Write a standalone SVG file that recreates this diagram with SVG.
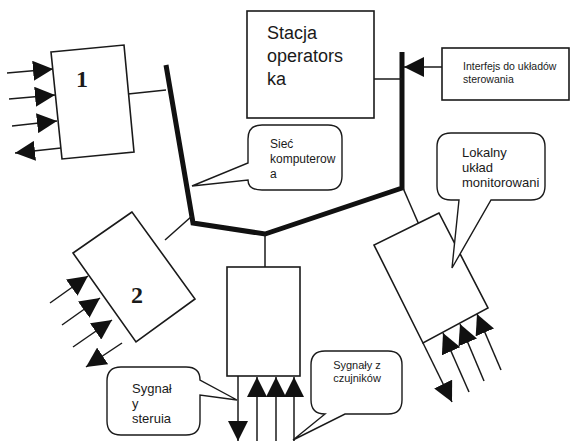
<svg xmlns="http://www.w3.org/2000/svg" width="574" height="441" viewBox="0 0 574 441">
  <style>
    .box { fill: #fff; stroke: #1a1a1a; stroke-width: 1.6; }
    .bubble { fill: #fff; stroke: #1a1a1a; stroke-width: 1.4; stroke-linejoin: miter; }
    .wire { fill: none; stroke: #1a1a1a; stroke-width: 1.5; }
    .sig { fill: none; stroke: #1a1a1a; stroke-width: 1.5; marker-end: url(#head); }
    .bus { fill: none; stroke: #111; stroke-width: 5; stroke-linejoin: miter; }
    .num { font-family: "Liberation Serif", "Times New Roman", serif; font-weight: bold; font-size: 24px; fill: #1a1a1a; text-anchor: middle; }
    .lbl { font-family: "Liberation Sans", Arial, sans-serif; fill: #1a1a1a; }
  </style>
  <defs>
    <marker id="head" viewBox="0 0 20 20" refX="20" refY="10" markerWidth="20" markerHeight="20" markerUnits="userSpaceOnUse" orient="auto">
      <path d="M0,0 L20,10 L0,20 Z" fill="#111"/>
    </marker>
  </defs>

  <!-- network bus and the links to it -->
  <g id="connectors">
    <path class="bus" d="M166,65 L193,223 L265,234 L402,188 L402,52"/>
    <path class="wire" d="M128,94 L166,90"/>
    <path class="wire" d="M374,79 L402,79"/>
    <path class="wire" d="M165,240 L192,216"/>
    <path class="wire" d="M265,267 L265,234"/>
    <path class="wire" d="M403,188 L420,227"/>
    <!-- interface input -->
    <path class="sig" d="M442,67 L404,67"/>
    <!-- station 1 signals -->
    <path class="sig" d="M7,73 L53,69"/>
    <path class="sig" d="M9,99 L55,95"/>
    <path class="sig" d="M12,126 L57,121"/>
    <path class="sig" d="M61,148 L15,153"/>
    <!-- station 2 signals -->
    <path class="sig" d="M50,303 L88,276"/>
    <path class="sig" d="M62,325 L100,298"/>
    <path class="sig" d="M73,347 L112,320"/>
    <path class="sig" d="M122,343 L86,367"/>
    <!-- middle unit signals -->
    <path class="sig" d="M238,376 L238,441"/>
    <path class="sig" d="M257,445 L257,377"/>
    <path class="sig" d="M276,445 L276,377"/>
    <path class="sig" d="M294,445 L294,377"/>
    <!-- monitoring unit signals -->
    <path class="sig" d="M423,343 L452,402"/>
    <path class="sig" d="M469,392 L443,333"/>
    <path class="sig" d="M484,381 L460,324"/>
    <path class="sig" d="M501,370 L477,314"/>
  </g>

  <g id="station1">
    <polygon class="box" points="51,52 124,45 134,152 62,159"/>
    <text class="num" x="82" y="87">1</text>
  </g>

  <g id="station2">
    <polygon class="box" points="132,212 73,253 136,342 195,299"/>
    <text class="num" x="137" y="303">2</text>
  </g>

  <g id="middle-unit">
    <rect class="box" x="227" y="267" width="73" height="109"/>
  </g>

  <g id="monitor-unit">
    <polygon class="box" points="439,213 374,245 423,343 488,308"/>
  </g>

  <g id="operator-station">
    <rect class="box" x="247" y="11" width="127" height="107"/>
    <text class="lbl" font-size="18" x="267" y="39">Stacja</text>
    <text class="lbl" font-size="18" x="267" y="62">operators</text>
    <text class="lbl" font-size="18" x="267" y="85">ka</text>
  </g>

  <g id="interface">
    <rect class="box" x="442" y="48" width="127" height="52"/>
    <text class="lbl" font-size="10.5" x="463" y="70">Interfejs do układów</text>
    <text class="lbl" font-size="10.5" x="463" y="83">sterowania</text>
  </g>

  <g id="network-note">
    <path class="bubble" d="M262,125 H328 Q342,125 342,139 V176 Q342,190 328,190 H262 Q248,190 248,180 L192,186 L248,163 V139 Q248,125 262,125 Z"/>
    <text class="lbl" font-size="12" x="270" y="148">Sieć</text>
    <text class="lbl" font-size="12" x="270" y="163">komputerow</text>
    <text class="lbl" font-size="12" x="270" y="178">a</text>
  </g>

  <g id="monitor-note">
    <path class="bubble" d="M451,133 H531 Q545,133 545,147 V186 Q545,200 531,200 H491 L452,268 L459,200 H451 Q437,200 437,186 V147 Q437,133 451,133 Z"/>
    <text class="lbl" font-size="13" x="462" y="157">Lokalny</text>
    <text class="lbl" font-size="13" x="462" y="172">układ</text>
    <text class="lbl" font-size="13" x="462" y="187">monitorowani</text>
  </g>

  <g id="control-note">
    <path class="bubble" d="M121,367 H186 Q200,367 200,380 L237,400 L200,395 V421 Q200,435 186,435 H121 Q107,435 107,421 V381 Q107,367 121,367 Z"/>
    <text class="lbl" font-size="13" x="132" y="393">Sygnał</text>
    <text class="lbl" font-size="13" x="132" y="408">y</text>
    <text class="lbl" font-size="13" x="132" y="423">steruia</text>
  </g>

  <g id="sensor-note">
    <path class="bubble" d="M325,351 H388 Q402,351 402,365 V400 Q402,414 388,414 H345 L293,440 L325,414 Q311,414 311,400 V365 Q311,351 325,351 Z"/>
    <text class="lbl" font-size="11" x="357" y="369" text-anchor="middle">Sygnały z</text>
    <text class="lbl" font-size="11" x="357" y="382" text-anchor="middle">czujników</text>
  </g>
</svg>
